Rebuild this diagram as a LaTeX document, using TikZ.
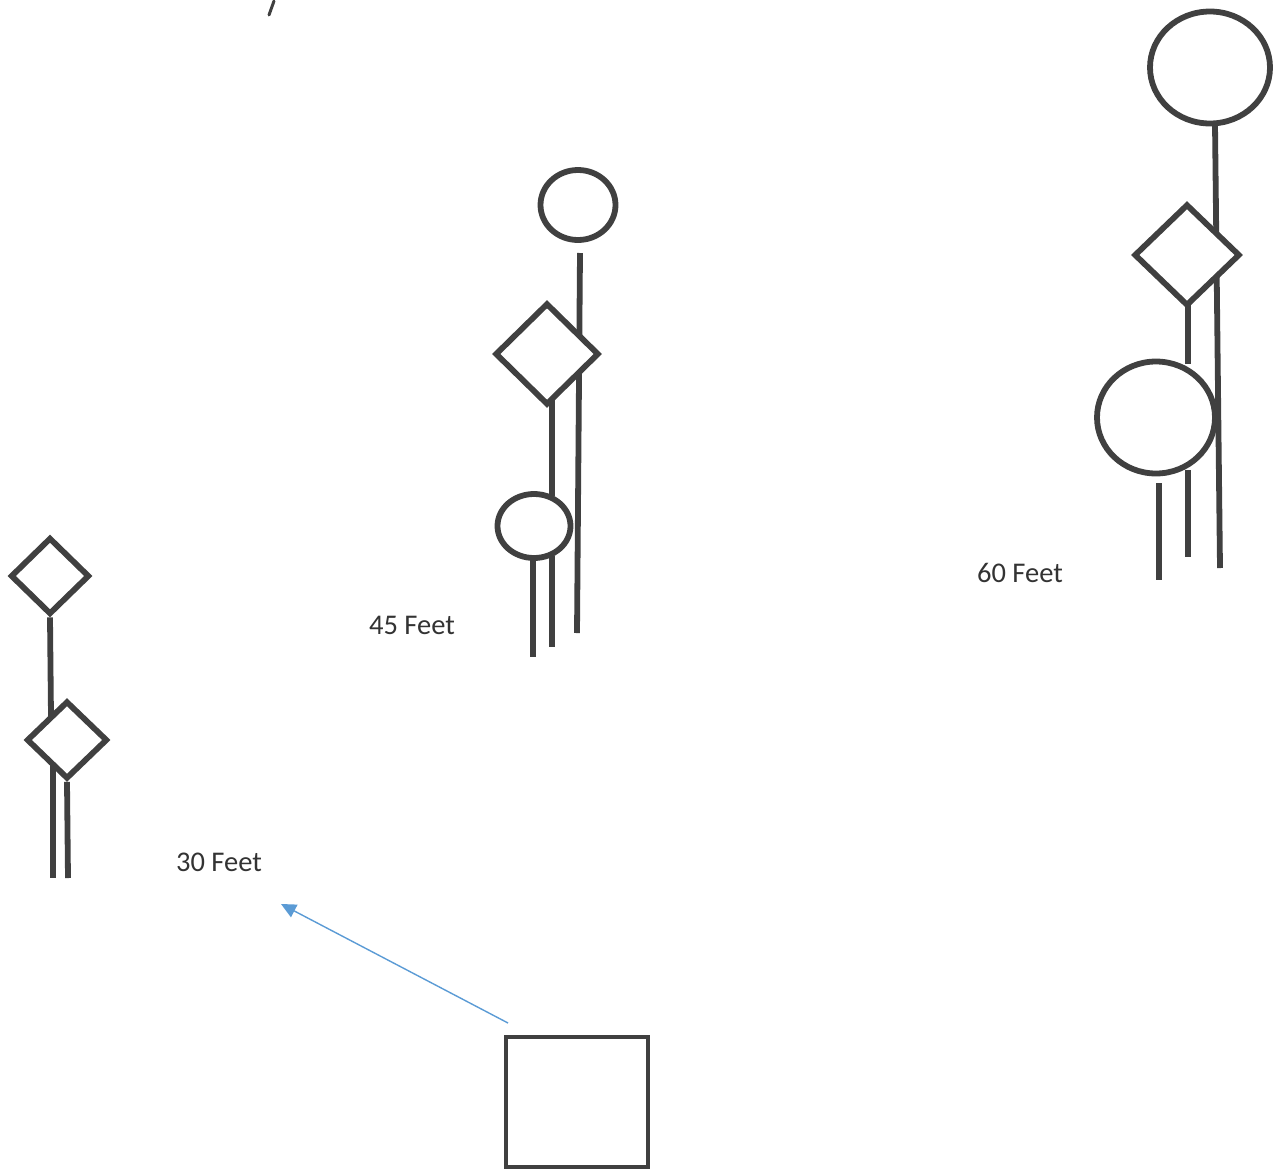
\documentclass[tikz,border=0pt]{standalone}
\usepackage{fontspec}
\setmainfont{Carlito}
\usetikzlibrary{shapes.geometric,arrows.meta}
\definecolor{ink}{HTML}{404040}
\definecolor{txt}{HTML}{333333}
\definecolor{arrowblue}{HTML}{5B9BD5}
\tikzset{
  stem/.style={draw=ink, line width=5.8pt},
  rhomb/.style={shape=diamond, draw=ink, fill=white, line width=5.8pt, inner sep=0pt},
  disc/.style={shape=ellipse, draw=ink, fill=white, line width=5.8pt, inner sep=0pt},
  lbl/.style={font=\fontsize{28.5}{32}\selectfont, text=txt, inner sep=0pt},
  boxnode/.style={draw=ink, line width=3.5pt, inner sep=0pt},
  pointer/.style={draw=arrowblue, line width=1.4pt, -{Triangle[length=15pt,width=14pt]}}
}
\begin{document}
\begin{tikzpicture}[x=1pt,y=-1pt]
\useasboundingbox (0,0) rectangle (1282,1170);

% ---------- group 1 (30 Feet) ----------
\node[rhomb, minimum width=79pt, minimum height=77pt] (d1a) at (50,576) {};
\node[rhomb, minimum width=81pt, minimum height=78pt] (d1b) at (67,740) {};
\coordinate (g1l) at (53,878);
\coordinate (g1r) at (68,878);
\coordinate (g1j) at (51,716);
\coordinate (g1k) at (53,765);
\draw[stem] (d1a.south) -- (g1j);
\draw[stem] (g1k) -- (g1l);
\draw[stem] (d1b.south) -- (g1r);
\node[lbl] (t30) at (219,862) {30 Feet};

% ---------- group 2 (45 Feet) ----------
\coordinate (g2top) at (580,253);
\coordinate (g2bot) at (577,633);
\coordinate (g2m1) at (552,400);
\coordinate (g2m2) at (552,496);
\coordinate (g2a) at (533,556);
\coordinate (g2ae) at (533,657);
\coordinate (g2b) at (552,556);
\coordinate (g2be) at (552,647);
\draw[stem] (g2top) -- (g2bot);
\draw[stem] (g2m1) -- (g2m2);
\draw[stem] (g2a) -- (g2ae);
\draw[stem] (g2b) -- (g2be);
\node[disc, minimum width=75pt, minimum height=70pt] (c2a) at (578,205) {};
\node[rhomb, minimum width=104pt, minimum height=102pt] (d2) at (547,354) {};
\node[disc, minimum width=73pt, minimum height=64pt] (c2b) at (534,526) {};
\node[lbl] (t45) at (412,625) {45 Feet};

% ---------- group 3 (60 Feet) ----------
\coordinate (g3bot) at (1220,568);
\coordinate (g3m1) at (1188,300);
\coordinate (g3m2) at (1188,364);
\coordinate (g3a) at (1159,483);
\coordinate (g3ae) at (1159,580);
\coordinate (g3b) at (1188,470);
\coordinate (g3be) at (1188,557);
\node[disc, minimum width=120pt, minimum height=112pt] (c3a) at (1210,67.5) {};
\draw[stem] (c3a.south -| 1215,0) ++(0,-2) -- (g3bot);
\draw[stem] (g3m1) -- (g3m2);
\draw[stem] (g3a) -- (g3ae);
\draw[stem] (g3b) -- (g3be);
\node[rhomb, minimum width=106pt, minimum height=102pt] (d3) at (1187,255) {};
\node[disc, minimum width=118pt, minimum height=112pt] (c3b) at (1156,417.5) {};
\node[lbl] (t60) at (1020,573) {60 Feet};

% ---------- square and arrow ----------
\node[boxnode, minimum width=142pt, minimum height=130pt] (sq) at (577,1102) {};
\coordinate (arrS) at (508,1023);
\coordinate (arrE) at (281,904);
\draw[pointer] (arrS) -- (arrE);

% stray pen mark
\coordinate (pm1) at (274,1);
\coordinate (pm2) at (269,15);
\draw[draw=ink, line width=3pt, line cap=round] (pm1) -- (pm2);
\end{tikzpicture}
\end{document}
